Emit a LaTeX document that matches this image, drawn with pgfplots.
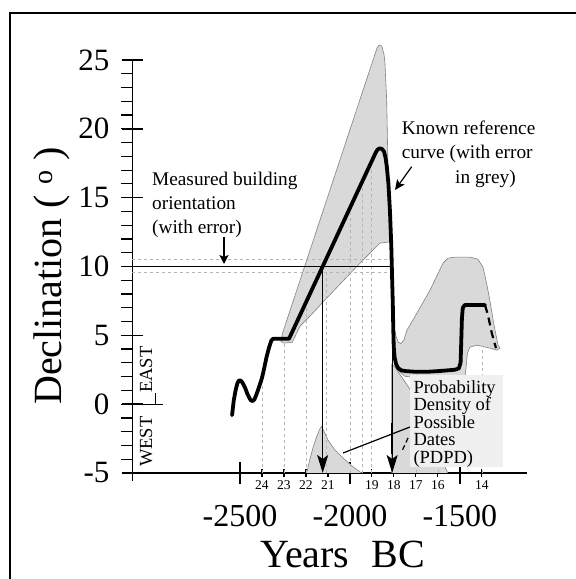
\documentclass[border=0pt]{standalone}
\usepackage{fontspec}
\setmainfont{Liberation Serif}
\usepackage{pgfplots}
\pgfplotsset{compat=1.18}
\usetikzlibrary{arrows.meta}
\definecolor{bandgrey}{RGB}{217,217,217}
\definecolor{boxgrey}{RGB}{240,240,240}
\definecolor{dashgrey}{RGB}{180,180,180}
\definecolor{edgegrey}{RGB}{130,130,130}
\begin{document}
\begin{tikzpicture}[x=1pt,y=1pt]
\useasboundingbox (0,0) rectangle (576,579);
\fill[white] (0,0) rectangle (576,579);
\draw[line width=2.7pt] (10,0) -- (10,566) -- (576,566);
\begin{axis}[
  at={(132.2pt,106pt)}, anchor=south west,
  scale only axis, width=394.8pt, height=413pt,
  xmin=-2990, xmax=-1195, ymin=-5, ymax=25,
  axis x line*=bottom, axis y line*=left,
  axis line style={line width=1.4pt, black},
  clip=false,
  xtick={-2500,-2000,-1500}, xticklabels={-2500,-2000,-1500},
  ytick={-5,0,5,10,15,20,25}, yticklabels={-5,0,5,10,15,20,25},
  tick align=center, major tick length=21pt,
  tick style={line width=1.4pt, black},
  xticklabel style={font=\fontsize{32}{32}\selectfont, anchor=base, inner sep=0pt, yshift=-43pt},
  yticklabel style={font=\fontsize{31}{31}\selectfont, anchor=east, inner sep=0pt, xshift=-12pt},
  extra x ticks={-2400,-2300,-2200,-2100,-1900,-1800,-1700,-1600,-1400},
  extra x tick labels={24,23,22,21,19,18,17,16,14},
  extra x tick style={major tick length=8pt, tick style={line width=1.1pt},
     xticklabel style={font=\fontsize{13.5}{13.5}\selectfont, yshift=30pt}},
]
% error band
\addplot[fill=bandgrey, draw=edgegrey, line width=0.6pt] coordinates {
(-2314,4.55) (-2305,5.23) (-1877,25.86) (-1868,26.08) (-1855,26.0) (-1845,25.4) (-1841,24.8)
(-1833,22.1) (-1827,17.2) (-1818,12.4) (-1809,7.55) (-1800,5.6) (-1790,4.9) (-1780,4.5)
(-1768,4.4) (-1755,4.65) (-1741,5.37) (-1714,6.1) (-1636,8.28) (-1577,10.24) (-1555,10.6)
(-1523,10.68) (-1455,10.68) (-1418,10.53) (-1395,9.95) (-1377,8.64) (-1364,7.55) (-1345,5.74)
(-1327,4.29) (-1318,4.07)
(-1332,3.92) (-1364,4.07) (-1423,4.29) (-1455,4.14) (-1466,3.7) (-1473,2.5) (-1477,1.96)
(-1682,1.89) (-1750,2.03) (-1785,2.5) (-1797,3.5) (-1802,5.4) (-1805,7.55) (-1809,10.5)
(-1814,11.77) (-1827,11.77) (-1864,11.7) (-1909,10.97) (-1968,10.02) (-2045,8.72)
(-2127,7.34) (-2182,6.39) (-2227,5.67) (-2262,4.5) (-2300,4.43) (-2314,4.55)
} -- cycle;
% PDPD 1
\addplot[fill=bandgrey, draw=edgegrey, line width=0.6pt] coordinates {
(-2197,-5) (-2182,-4.0) (-2167,-3.1) (-2150,-2.3) (-2137,-1.8) (-2129,-1.62) (-2120,-1.9)
(-2100,-2.6) (-2070,-3.3) (-2032,-3.9) (-1990,-4.5) (-1947,-5)
};
% PDPD 2
\addplot[fill=bandgrey, draw=edgegrey, line width=0.6pt] coordinates {
(-1810,-5) (-1810,2.9) (-1795,2.69) (-1718,0.87) (-1640,-1.9) (-1555,-5)
};
% vertical dashed guides
\addplot[dashgrey, dashed, line width=0.8pt] coordinates {(-2400,-5) (-2400,1.9)};
\addplot[dashgrey, dashed, line width=0.8pt] coordinates {(-2300,-5) (-2300,4.7)};
\addplot[dashgrey, dashed, line width=0.8pt] coordinates {(-2200,-5) (-2200,7.4)};
\addplot[dashgrey, dashed, line width=0.8pt] coordinates {(-2108,-5) (-2108,9.5)};
\addplot[dashgrey, dashed, line width=0.8pt] coordinates {(-2000,-5) (-2000,13.9)};
\addplot[dashgrey, dashed, line width=0.8pt] coordinates {(-1945,-5) (-1945,15.7)};
\addplot[dashgrey, dashed, line width=0.8pt] coordinates {(-1902,-5) (-1902,17.0)};
\addplot[dashgrey, dashed, line width=0.8pt] coordinates {(-1700,-5) (-1700,2.2)};
\addplot[dashgrey, dashed, line width=0.8pt] coordinates {(-1600,-5) (-1600,2.2)};
\addplot[dashgrey, dashed, line width=0.8pt] coordinates {(-1400,-5) (-1400,4.2)};
% measured orientation with error
\addplot[dashgrey, dashed, line width=0.8pt] coordinates {(-2990,10.5) (-1805,10.5)};
\addplot[dashgrey, dashed, line width=0.8pt] coordinates {(-2990,9.6) (-1805,9.6)};
\addplot[black, line width=1.3pt] coordinates {(-2990,10) (-1805,10)};
% reference curve
\addplot[black, line width=3.8pt, line join=round, line cap=round] coordinates {
(-2536,-0.8) (-2528,0.3) (-2520,1.0) (-2512,1.5) (-2505,1.72) (-2497,1.72) (-2488,1.55)
(-2477,1.2) (-2465,0.7) (-2452,0.3) (-2443,0.22) (-2434,0.35) (-2424,0.75) (-2412,1.3)
(-2400,1.9) (-2390,2.6) (-2379,3.44) (-2368,4.1) (-2358,4.6) (-2350,4.75) (-2277,4.75)
(-2124,10) (-1882,18.3) (-1874,18.5) (-1865,18.58) (-1855,18.55) (-1845,18.35) (-1838,17.9)
(-1832,17.2) (-1825,16) (-1818,14) (-1812,11.5) (-1808,9) (-1805,7.2) (-1803,5.5)
(-1801,4.2) (-1797,3.4) (-1790,2.9) (-1780,2.6) (-1765,2.45) (-1745,2.4) (-1700,2.35)
(-1650,2.35) (-1600,2.4) (-1560,2.45) (-1523,2.5) (-1505,2.6) (-1497,3.0) (-1494,4.5)
(-1491,6.2) (-1487,7.0) (-1478,7.2) (-1386,7.2)
};
\addplot[black, line width=2.2pt, dash pattern=on 8pt off 5pt] coordinates {
(-1386,7.2) (-1373,6.5) (-1355,5.16) (-1336,4.07)
};
% arrows to possible dates
\addplot[black, line width=1.2pt, -{Stealth[length=18pt,width=11pt,inset=4pt]}] coordinates {(-2124,10) (-2124,-5)};
\addplot[black, line width=1.2pt, -{Stealth[length=18pt,width=11pt,inset=4pt]}] coordinates {(-1808,10) (-1808,-5)};
\addplot[black, line width=2.6pt] coordinates {(-1808,-1.4) (-1808,-3.6)};
% minor ticks and east/west marker
\pgfplotsinvokeforeach{-4,-3,...,24}{\draw[line width=1.2pt] (axis cs:-2990,#1) -- ++(-11pt,0pt);}
\draw[line width=1.2pt] (axis cs:-2990,0) -- ++(31pt,0pt);
\draw[line width=1.2pt] (axis cs:-2990,-5) -- ++(0pt,-8pt);
\end{axis}
% annotations
\node[font=\fontsize{18.5}{18.5}\selectfont, rotate=90, anchor=base west, inner sep=0pt] at (152,186) {EAST};
\node[font=\fontsize{18.5}{18.5}\selectfont, rotate=90, anchor=base west, inner sep=0pt] at (152,112) {WEST};
\draw[line width=1pt] (155,175) -- (155,186);
\node[font=\fontsize{19.3}{19.3}\selectfont, anchor=base west, inner sep=0pt] at (152,393) {Measured building};
\node[font=\fontsize{19.3}{19.3}\selectfont, anchor=base west, inner sep=0pt] at (152,369) {orientation};
\node[font=\fontsize{19.3}{19.3}\selectfont, anchor=base west, inner sep=0pt] at (152,345) {(with error)};
\draw[line width=1.2pt, -{Stealth[length=9pt,width=9pt,inset=2pt]}] (224,342) -- (224,315);
\node[font=\fontsize{19.3}{19.3}\selectfont, anchor=base west, inner sep=0pt] at (401.7,444) {Known reference};
\node[font=\fontsize{19.3}{19.3}\selectfont, anchor=base west, inner sep=0pt] at (401.7,420) {curve (with error};
\node[font=\fontsize{19.3}{19.3}\selectfont, anchor=base west, inner sep=0pt] at (455,395) {in grey)};
\draw[line width=1.2pt, -{Stealth[length=10pt,width=9pt,inset=2pt]}] (411.7,412.3) -- (395,389);
\fill[boxgrey] (410,112.3) rectangle (503.3,204);
\draw[line width=1.2pt] (343,126) -- (410,152);
\draw[line width=1.2pt, dash pattern=on 5pt off 3pt] (408,141) -- (401.7,127.3);
\node[font=\fontsize{18.5}{17.5}\selectfont, align=left, anchor=north west, inner sep=0pt] at (413.3,199) {Probability\\Density of\\Possible\\Dates\\(PDPD)};
\node[font=\fontsize{40}{40}\selectfont, rotate=90, anchor=base west, inner sep=0pt] at (61.7,174) {Declination ( \textsuperscript{o} )};
\node[font=\fontsize{40}{40}\selectfont, anchor=base west, inner sep=0pt] at (260,11) {Years\hspace{22pt}BC};
\end{tikzpicture}
\end{document}
